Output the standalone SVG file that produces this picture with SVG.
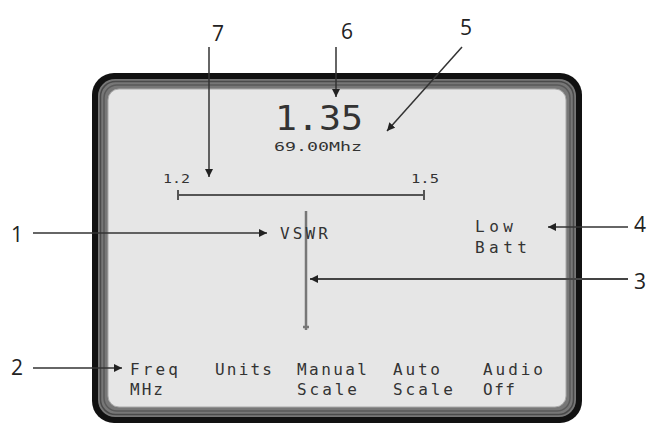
<svg xmlns="http://www.w3.org/2000/svg" width="648" height="425" viewBox="0 0 648 425">
<style>
.lcd{font-family:"DejaVu Sans Mono","Liberation Mono",monospace;fill:#333}
.num{font-family:"Open Sans","Liberation Sans",sans-serif;font-size:21px;fill:#222}
.ln{stroke:#333;stroke-width:1.5;fill:none}
</style>
<defs>
<marker id="ah" viewBox="0 0 10 10" refX="10" refY="5" markerWidth="8" markerHeight="8" markerUnits="userSpaceOnUse" orient="auto">
<path d="M0,0 L10,5 L0,10 z" fill="#222"/>
</marker>
</defs>
<rect width="648" height="425" fill="#fff"/>
<g id="frame">
<rect x="92" y="73" width="490" height="350" rx="22" fill="#111"/>
<rect x="98" y="79" width="478" height="338" rx="17" fill="#777"/>
<rect x="100.5" y="81.5" width="473" height="333" rx="15" fill="none" stroke="#4a4a4a" stroke-width="1.5"/>
<rect x="104" y="85" width="466" height="326" rx="13" fill="none" stroke="#5a5a5a" stroke-width="1.5"/>
<rect x="108" y="89" width="458" height="318" rx="11" fill="#e6e6e6" stroke="#aaa" stroke-width="1"/>
</g>
<g id="display">
<text class="lcd" x="275" y="130" font-size="34" textLength="88" lengthAdjust="spacingAndGlyphs">1.35</text>
<text class="lcd" x="274" y="151" font-size="13" textLength="88" lengthAdjust="spacingAndGlyphs">69.00Mhz</text>
</g>
<g id="scale">
<text class="lcd" x="163" y="183" font-size="12" textLength="27" lengthAdjust="spacingAndGlyphs">1.2</text>
<text class="lcd" x="411" y="183" font-size="12" textLength="28" lengthAdjust="spacingAndGlyphs">1.5</text>
<path d="M178,195 H424 M178,190 V200 M424,190 V200" stroke="#555" stroke-width="2" fill="none"/>
</g>
<g id="needle">
<path d="M306,211 V330 M303,327 H309" stroke="#777" stroke-width="2.5" fill="none"/>
</g>
<g id="vswr"><text class="lcd" x="280" y="239" font-size="16" textLength="48" lengthAdjust="spacing">VSWR</text></g>
<g id="lowbatt">
<text class="lcd" x="475" y="232" font-size="16" textLength="38" lengthAdjust="spacing">Low</text>
<text class="lcd" x="475" y="253" font-size="16" textLength="52" lengthAdjust="spacing">Batt</text>
</g>
<g id="softkeys" font-size="16">
<text class="lcd" x="130" y="375" textLength="48" lengthAdjust="spacing">Freq</text>
<text class="lcd" x="130" y="395" textLength="33" lengthAdjust="spacing">MHz</text>
<text class="lcd" x="215" y="375" textLength="57" lengthAdjust="spacing">Units</text>
<text class="lcd" x="297" y="375" textLength="70" lengthAdjust="spacing">Manual</text>
<text class="lcd" x="297" y="395" textLength="60" lengthAdjust="spacing">Scale</text>
<text class="lcd" x="393" y="375" textLength="47" lengthAdjust="spacing">Auto</text>
<text class="lcd" x="393" y="395" textLength="60" lengthAdjust="spacing">Scale</text>
<text class="lcd" x="483" y="375" textLength="60" lengthAdjust="spacing">Audio</text>
<text class="lcd" x="483" y="395" textLength="32" lengthAdjust="spacing">Off</text>
</g>
<g id="connectors">
<line class="ln" x1="209" y1="47" x2="209" y2="177" marker-end="url(#ah)"/>
<line class="ln" x1="336" y1="47" x2="336" y2="97" marker-end="url(#ah)"/>
<line class="ln" x1="462" y1="47" x2="387" y2="131" marker-end="url(#ah)"/>
<line class="ln" x1="33" y1="233" x2="267" y2="233" marker-end="url(#ah)"/>
<line class="ln" x1="33" y1="368" x2="122" y2="368" marker-end="url(#ah)"/>
<line class="ln" x1="628" y1="227" x2="548" y2="227" marker-end="url(#ah)"/>
<line x1="628" y1="279" x2="310" y2="279" stroke="#444" stroke-width="2" marker-end="url(#ah)"/>
</g>
<g id="labels">
<text class="num" x="218" y="41" text-anchor="middle">7</text>
<text class="num" x="347" y="39" text-anchor="middle">6</text>
<text class="num" x="466" y="35" text-anchor="middle">5</text>
<text class="num" x="17" y="242" text-anchor="middle">1</text>
<text class="num" x="17" y="375" text-anchor="middle">2</text>
<text class="num" x="640" y="289" text-anchor="middle">3</text>
<text class="num" x="640" y="232" text-anchor="middle">4</text>
</g>
</svg>
